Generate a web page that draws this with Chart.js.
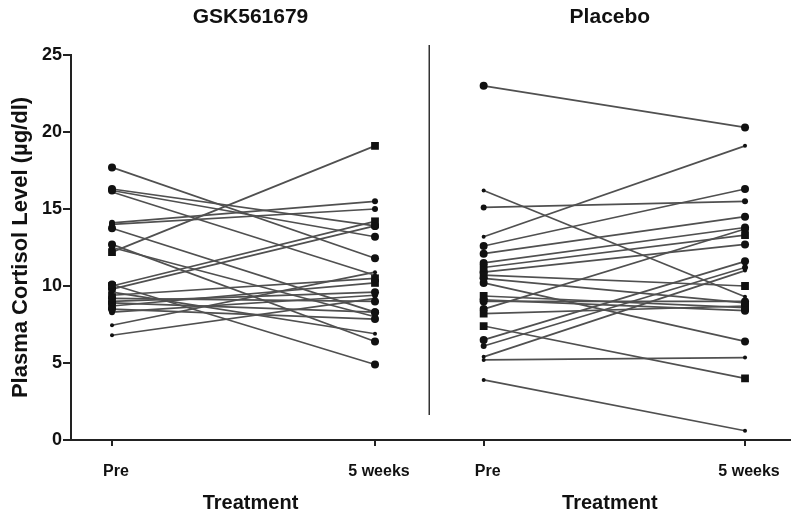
<!DOCTYPE html>
<html>
<head>
<meta charset="utf-8">
<script src="https://cdn.jsdelivr.net/npm/chart.js@4"></script>
<style>
  html, body { margin: 0; padding: 0; background: #fff; }
  #wrap { position: relative; width: 792px; height: 519px; }
  #left { position: absolute; left: 0; top: 0; }
  #right { position: absolute; left: 430px; top: 0; }
</style>
</head>
<body>
<div id="wrap">
  <canvas id="left" width="430" height="519"></canvas>
  <canvas id="right" width="362" height="519"></canvas>
</div>
<script>
const xLabels = ["Pre", "5 weeks"];
const yTicks = [0, 5, 10, 15, 20, 25];

// GSK561679 arm, one entry per subject
const gskPre  = [17.7, 16.3, 16.2, 16.1, 14.1, 14.0, 13.75, 12.7, 12.5, 12.2, 10.1, 10.0, 9.8, 9.6, 9.4, 9.2, 9.0, 8.9, 8.7, 8.5, 8.3, 7.45, 6.8];
const gskPost = [11.8, 13.9, 13.2, 10.7, 15.5, 15.0, 8.3, 6.4, 8.0, 19.1, 4.9, 14.2, 13.9, 6.9, 10.5, 9.0, 9.6, 8.3, 10.2, 7.85, 9.4, 10.9, 9.2];
const gskSym  = ["c", "c", "c", "d", "m", "m", "c", "c", "m", "s", "c", "s", "c", "d", "s", "c", "c", "c", "s", "c", "m", "d", "d"];

// Placebo arm
const placeboPre  = [23.0, 16.2, 15.1, 13.2, 12.6, 12.1, 11.5, 11.2, 10.9, 10.7, 10.5, 10.2, 9.35, 9.1, 8.5, 8.2, 7.4, 6.5, 6.1, 5.4, 5.2, 3.9, 9.0];
const placeboPost = [20.3, 9.3, 15.5, 19.1, 16.3, 14.5, 13.8, 13.3, 12.7, 10.0, 8.9, 6.4, 8.6, 8.4, 13.7, 8.7, 4.0, 11.6, 11.2, 11.0, 5.35, 0.6, 9.0];
const placeboSym  = ["c", "d", "m", "d", "c", "c", "c", "s", "c", "s", "c", "c", "s", "c", "c", "s", "s", "c", "m", "d", "d", "d", "c"];

Chart.defaults.font.family = "'Liberation Sans', Arial, sans-serif";
Chart.defaults.color = "#111";

const symStyle = { c: ["circle", 4], m: ["circle", 3], d: ["circle", 2], s: ["rect", 5.5] };

function buildDatasets(pre, post, sym) {
  return pre.map((p, i) => ({
    data: [{ x: 0, y: p }, { x: 1, y: post[i] }],
    borderColor: "#505050",
    borderWidth: 1.7,
    pointStyle: symStyle[sym[i]][0],
    pointRadius: symStyle[sym[i]][1],
    pointBackgroundColor: "#111",
    pointBorderColor: "#111",
    pointBorderWidth: 0
  }));
}

// vertical rule between the two panels
const divider = {
  id: "divider",
  afterDraw(chart) {
    const ctx = chart.ctx;
    ctx.save();
    ctx.strokeStyle = "#333";
    ctx.lineWidth = 1.5;
    ctx.beginPath();
    ctx.moveTo(chart.width - 0.75, 45);
    ctx.lineTo(chart.width - 0.75, 415);
    ctx.stroke();
    ctx.restore();
  }
};

function makePanel(id, title, pre, post, sym, showY, xMin, xMax) {
  return new Chart(document.getElementById(id), {
    type: "line",
    data: { datasets: buildDatasets(pre, post, sym) },
    plugins: showY ? [divider] : [],
    options: {
      responsive: false,
      animation: false,
      layout: { padding: 0, autoPadding: false },
      plugins: {
        legend: { display: false },
        tooltip: { enabled: false },
        title: {
          display: true,
          text: title,
          fullSize: false,
          color: "#111",
          font: { size: 21, weight: "bold" },
          padding: { top: 5, bottom: 24.8 }
        }
      },
      scales: {
        x: {
          type: "linear",
          min: xMin,
          max: xMax,
          afterBuildTicks: (s) => { s.ticks = xLabels.map((_, i) => ({ value: i })); },
          afterFit: (s) => { s.height = 79; },
          ticks: {
            callback: (v) => xLabels[v],
            font: { size: 16, weight: "bold" },
            color: "#111",
            padding: 16,
            labelOffset: 4,
            maxRotation: 0
          },
          grid: { drawOnChartArea: false, tickLength: 6, color: "#222", lineWidth: 2 },
          border: { color: "#222", width: 2 },
          title: {
            display: true,
            text: "Treatment",
            color: "#111",
            font: { size: 20, weight: "bold" },
            padding: { top: 0, bottom: 4 }
          }
        },
        y: {
          display: showY,
          min: 0,
          max: 25,
          afterBuildTicks: (s) => { s.ticks = yTicks.map((v) => ({ value: v })); },
          afterFit: (s) => { if (showY) s.width = 71; },
          ticks: { font: { size: 18, weight: "bold" }, color: "#111", padding: 1 },
          grid: { drawOnChartArea: false, tickLength: 8, color: "#222", lineWidth: 2 },
          border: { color: "#222", width: 2 },
          title: {
            display: true,
            text: "Plasma Cortisol Level (µg/dl)",
            color: "#111",
            font: { size: 22, weight: "bold" },
            padding: { top: 8, bottom: 0 }
          }
        }
      }
    }
  });
}

makePanel("left", "GSK561679", gskPre, gskPost, gskSym, true, -0.1559, 1.2091);
makePanel("right", "Placebo", placeboPre, placeboPost, placeboSym, false, -0.2053, 1.1711);
</script>
</body>
</html>
